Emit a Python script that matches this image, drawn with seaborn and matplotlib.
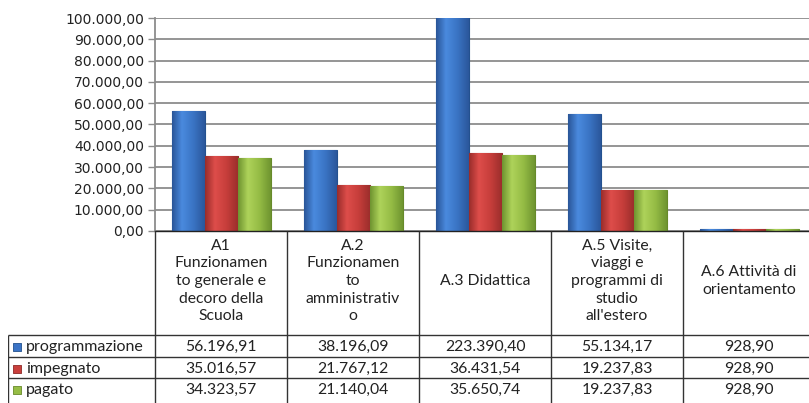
import numpy as np
import pandas as pd
import matplotlib
matplotlib.use('Agg')
import matplotlib.pyplot as plt
from matplotlib.colors import LinearSegmentedColormap
import seaborn as sns

categories = ['A1\nFunzionamen\nto generale e\ndecoro della\nScuola',
              'A.2\nFunzionamen\nto\namministrativ\no',
              'A.3 Didattica',
              'A.5 Visite,\nviaggi e\nprogrammi di\nstudio\nall\'estero',
              'A.6 Attività di\norientamento']
series = ['programmazione', 'impegnato', 'pagato']
programmazione = [56196.91, 38196.09, 223390.40, 55134.17, 928.90]
impegnato = [35016.57, 21767.12, 36431.54, 19237.83, 928.90]
pagato = [34323.57, 21140.04, 35650.74, 19237.83, 928.90]
y_ticks = [0, 10000, 20000, 30000, 40000, 50000, 60000, 70000, 80000, 90000, 100000]

colors = ['#3b74c6', '#c93f3c', '#96bd45']
edges = ['#23518f', '#8f2826', '#678a2a']
# bevel-like shading: dark edge -> light -> base -> dark edge
shades = [['#2a5699', '#4a8ade', '#3a74c4', '#2b579c'],
          ['#9a2d2b', '#de4d4a', '#c73e3b', '#9c2e2c'],
          ['#6f9430', '#aed35a', '#95bc45', '#6f9530']]


def fmt_it(v):
    s = f"{v:,.2f}"
    return s.replace(',', 'X').replace('.', ',').replace('X', '.')


rows = []
for i, c in enumerate(categories):
    rows.append({'cat': i, 'serie': 'programmazione', 'valore': programmazione[i]})
    rows.append({'cat': i, 'serie': 'impegnato', 'valore': impegnato[i]})
    rows.append({'cat': i, 'serie': 'pagato', 'valore': pagato[i]})
df = pd.DataFrame(rows)

sns.set_style('white')
plt.rcParams['font.family'] = ['Lato', 'DejaVu Sans']

W, H = 809, 403
fig = plt.figure(figsize=(W / 100, H / 100), dpi=100)

# main plot area: x 155..809 px, y 18..231 px
ax = fig.add_axes([155 / W, (H - 231) / H, (W - 155) / W, (231 - 18) / H])
sns.barplot(data=df, x='cat', y='valore', hue='serie', hue_order=series,
            palette=colors, width=0.75, ax=ax, legend=False, saturation=1)

cat_px = 132.0
ax.set_xlim(-0.5, -0.5 + (W - 155) / cat_px)
ax.set_ylim(0, 100000)

grad = np.linspace(0, 1, 64).reshape(1, -1)
for k, cont in enumerate(ax.containers):
    cmap = LinearSegmentedColormap.from_list('b%d' % k, list(zip([0, 0.3, 0.65, 1], shades[k])))
    for bar in cont:
        bar.set_edgecolor(edges[k])
        bar.set_linewidth(0.8)
        x0, w = bar.get_x(), bar.get_width()
        h = min(bar.get_height(), 100000)
        im = ax.imshow(grad, cmap=cmap, aspect='auto', extent=[x0, x0 + w, 0, h],
                       zorder=bar.get_zorder() + 0.1)
        im.set_clip_path(bar)
ax.set_xlim(-0.5, -0.5 + (W - 155) / cat_px)
ax.set_ylim(0, 100000)

ax.set_yticks(y_ticks)
ax.set_yticklabels([fmt_it(v) for v in y_ticks], family='DejaVu Sans', fontsize=10, color='#222222')
ax.set_xticks([])
ax.set_xlabel('')
ax.set_ylabel('')
ax.yaxis.grid(True, color='#8c8c8c', linewidth=1.3)
ax.set_axisbelow(True)
ax.tick_params(axis='y', length=5, width=1, color='#8c8c8c', pad=3, left=True)
for s in ['top', 'right']:
    ax.spines[s].set_visible(False)
ax.spines['left'].set_color('#8c8c8c')
ax.spines['left'].set_linewidth(1.3)
ax.spines['bottom'].set_color('#222222')
ax.spines['bottom'].set_linewidth(1)

# data table below the plot, in pixel rows
left_units = (155 - 8) / cat_px
tab = fig.add_axes([8 / W, 0, (W - 8) / W, (H - 231) / H])
tab.set_xlim(-0.5 - left_units, -0.5 + (W - 155) / cat_px)
tab.set_ylim(H, 231)
tab.axis('off')

line_kw = dict(color='#333333', linewidth=1)
row_y = [335, 357, 378, 400]
tab.vlines(-0.5 - left_units + 0.002, row_y[0], H, **line_kw)
for b in np.arange(len(categories)) - 0.5:
    tab.vlines(b, 231, H, **line_kw)
for y in row_y[:-1]:
    tab.hlines(y, -0.5 - left_units, 10, **line_kw)

for i, c in enumerate(categories):
    tab.text(i, 281, c, ha='center', va='center', fontsize=11.3,
             linespacing=1.33, color='#222222')

values = [programmazione, impegnato, pagato]
for r, name in enumerate(series):
    yc = (row_y[r] + row_y[r + 1]) / 2 + 1
    tab.scatter([-0.5 - left_units + 0.065], [yc], marker='s', s=40,
                color=colors[r], edgecolor=edges[r], linewidth=0.6)
    tab.text(-0.5 - left_units + 0.135, yc, name, ha='left', va='center',
             fontsize=11.5, color='#222222')
    for i, v in enumerate(values[r]):
        tab.text(i, yc, fmt_it(v), ha='center', va='center',
                 fontsize=11.3, color='#222222')

fig.savefig('out.png', dpi=100)
